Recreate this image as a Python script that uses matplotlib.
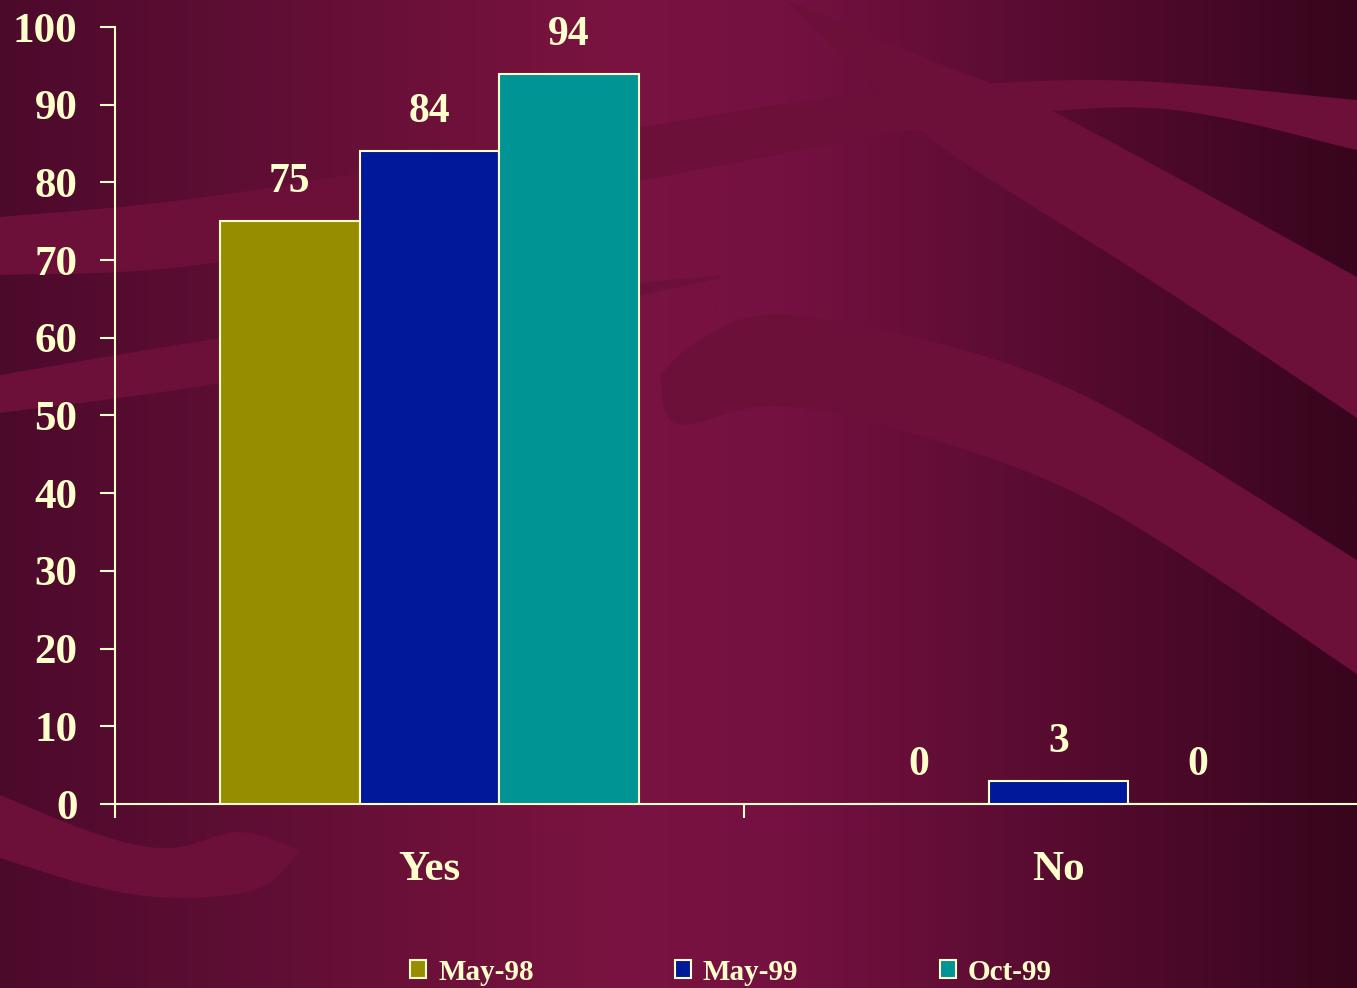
import numpy as np
import matplotlib
matplotlib.use("Agg")
import matplotlib.pyplot as plt
from matplotlib.colors import LinearSegmentedColormap

plt.rcParams['font.family'] = ['Liberation Serif', 'DejaVu Serif']
plt.rcParams['font.weight'] = 'bold'

# survey answers, percent of respondents
categories = ['Yes', 'No']
periods = ['May-98', 'May-99', 'Oct-99']
values = {
    'May-98': [75, 0],
    'May-99': [84, 3],
    'Oct-99': [94, 0],
}
yticks = [0, 10, 20, 30, 40, 50, 60, 70, 80, 90, 100]

bar_colors = ['#968E00', '#00189A', '#009494']
cream = '#FFFFCC'

W, H = 1357, 988
fig = plt.figure(figsize=(W / 100, H / 100), dpi=100)


def smooth(pts, n=30):
    # Catmull-Rom through the given points
    pts = np.asarray(pts, float)
    p = np.vstack([pts[0], pts, pts[-1]])
    out = []
    for i in range(1, len(p) - 2):
        p0, p1, p2, p3 = p[i - 1], p[i], p[i + 1], p[i + 2]
        t = np.linspace(0, 1, n, endpoint=False)[:, None]
        out.append(0.5 * ((2 * p1) + (-p0 + p2) * t
                          + (2 * p0 - 5 * p1 + 4 * p2 - p3) * t ** 2
                          + (-p0 + 3 * p1 - 3 * p2 + p3) * t ** 3))
    out.append(pts[-1:])
    return np.vstack(out)


# slide background: horizontal gradient with swooping ribbons
bg = fig.add_axes([0, 0, 1, 1], zorder=-10)
grad = LinearSegmentedColormap.from_list(
    'slide', [(0.0, '#4C0A2B'), (0.45, '#7A1340'), (0.58, '#741140'), (1.0, '#38051D')])
bg.imshow(np.linspace(0, 1, 512)[None, :], cmap=grad, aspect='auto',
          extent=(0, W, H, 0), interpolation='bicubic')

ribbon = '#6C0F39'
bands = [
    ([(0, 217), (220, 195), (640, 127), (850, 96), (1100, 80), (1357, 100)],
     [(0, 275), (220, 262), (640, 181), (923, 129), (1150, 108), (1357, 150)]),
    ([(0, 375), (220, 338), (480, 300), (720, 275)],
     [(0, 413), (220, 383), (480, 330), (720, 278)]),
    ([(786, 0), (930, 60), (1060, 115), (1357, 277)],
     [(900, 110), (960, 160), (1150, 280), (1357, 418)]),
    ([(660, 375), (700, 340), (772, 315), (923, 339), (1097, 402), (1357, 560)],
     [(660, 375), (677, 424), (772, 406), (896, 429), (1097, 504), (1357, 674)]),
    ([(0, 795), (100, 835), (170, 848), (240, 832), (300, 850)],
     [(0, 858), (100, 888), (180, 898), (260, 888), (300, 850)]),
]
for top, bot in bands:
    edge = np.vstack([smooth(top), smooth(bot)[::-1]])
    bg.fill(edge[:, 0], edge[:, 1], color=ribbon, lw=0)
bg.set_xlim(0, W)
bg.set_ylim(H, 0)
bg.axis('off')

# chart
ax = fig.add_axes([115 / W, 1 - 804 / H, (W - 115) / W, (804 - 27) / H])
ax.patch.set_visible(False)

x = np.arange(len(categories))
width = 0.222
for i, (name, color) in enumerate(zip(periods, bar_colors)):
    pos = x + (i - 1) * width
    ax.bar(pos, values[name], width, color=color, edgecolor=cream,
           linewidth=1.5, label=name, zorder=3)
    for xp, v in zip(pos, values[name]):
        ax.annotate(str(v), (xp, v), xytext=(0, 28), textcoords='offset points',
                    ha='center', va='center', color=cream, fontsize=30,
                    fontweight='bold')

ax.set_ylim(0, 100)
ax.set_xlim(-0.5, -0.5 + (W - 115) / 629)
ax.set_yticks(yticks)
ax.tick_params(axis='y', colors=cream, labelsize=31, length=11, width=1.5, pad=16)

# boundary ticks between groups, category names centred under each group
ax.set_xticks([-0.5, 0.5])
ax.set_xticklabels(['', ''])
ax.set_xticks(x, minor=True)
ax.set_xticklabels(categories, minor=True)
ax.tick_params(axis='x', which='major', colors=cream, length=10, width=1.5)
ax.tick_params(axis='x', which='minor', colors=cream, length=0, labelsize=31, pad=34)

for side in ('top', 'right'):
    ax.spines[side].set_visible(False)
for side in ('left', 'bottom'):
    ax.spines[side].set_color(cream)
    ax.spines[side].set_linewidth(1.5)
for lbl in ax.get_xticklabels(minor=True) + ax.get_yticklabels():
    lbl.set_fontweight('bold')

leg = fig.legend(loc='center', bbox_to_anchor=(731 / W, 1 - 972 / H), ncol=3,
                 frameon=False, fontsize=21, handlelength=0.55, handleheight=0.55,
                 handletextpad=0.4, columnspacing=4.85, borderaxespad=0)
for t in leg.get_texts():
    t.set_color(cream)
    t.set_fontweight('bold')

fig.savefig('out.png', dpi=100)
